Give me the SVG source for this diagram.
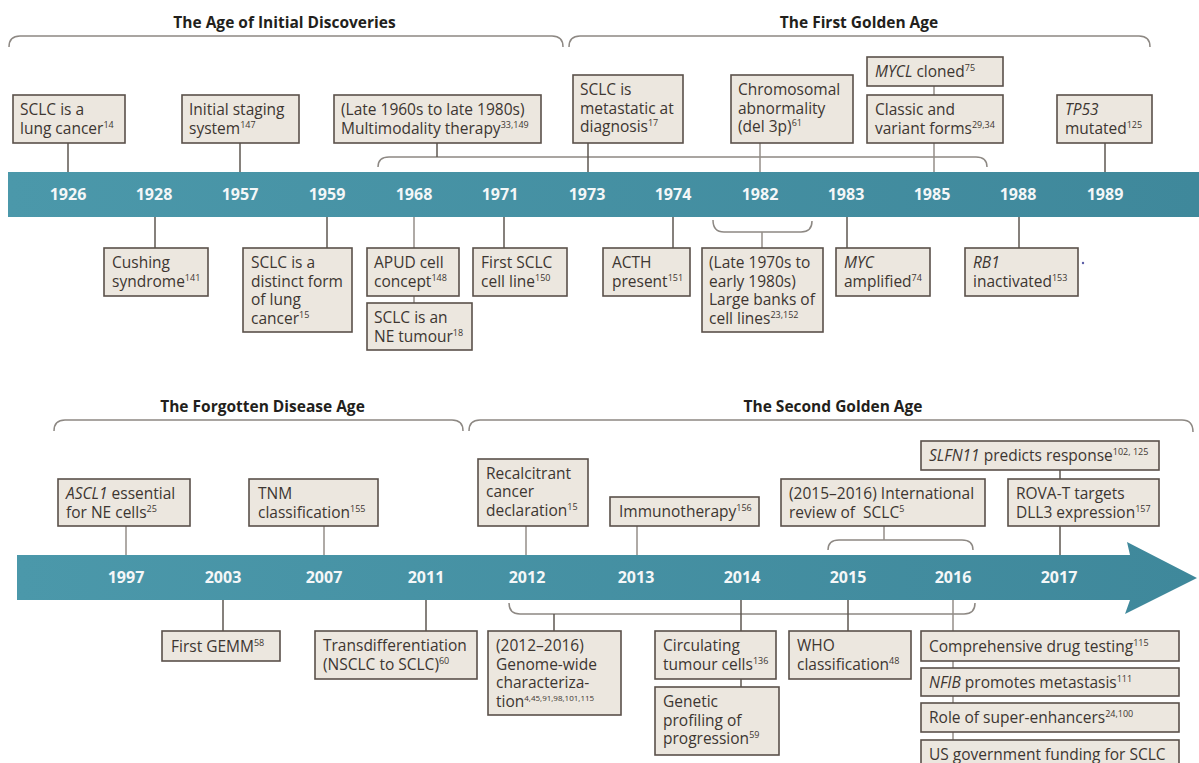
<svg xmlns="http://www.w3.org/2000/svg" width="1199" height="763" viewBox="0 0 1199 763">
<style>
.box{fill:#ece7df;stroke:#5a514a;stroke-width:1.6}
.t{font-family:"Open Sans","Liberation Sans",sans-serif;font-size:15.5px;fill:#3d3631}
.i{font-style:italic}
.sup{font-size:9px}
.yr{font-family:"Open Sans","Liberation Sans",sans-serif;font-weight:700;font-size:16px;fill:#f4f7f8;text-anchor:middle}
.title{font-family:"Open Sans","Liberation Sans",sans-serif;font-weight:700;font-size:15.5px;fill:#231f1c;text-anchor:middle}
.conn{stroke:#5e5751;stroke-width:1.5;fill:none}
.lconn{stroke:#948e88;stroke-width:1.5;fill:none}
.brk{stroke:#8d8883;stroke-width:1.5;fill:none}
</style>
<defs>
<linearGradient id="band" x1="0" y1="0" x2="1" y2="0">
<stop offset="0" stop-color="#4b98aa"/>
<stop offset="1" stop-color="#3f889b"/>
</linearGradient>
</defs>
<rect width="1199" height="763" fill="#ffffff"/>

<g id="titles">
<text class="title" x="284.5" y="27.5">The Age of Initial Discoveries</text>
<text class="title" x="859" y="27.5">The First Golden Age</text>
<text class="title" x="262.5" y="411.5">The Forgotten Disease Age</text>
<text class="title" x="833" y="411.5">The Second Golden Age</text>
</g>

<g id="bands">
<rect x="8" y="172" width="1191" height="45" fill="url(#band)"/>
<polygon points="17,555 1130,555 1127,542 1197,578 1125,614 1130,600 17,600" fill="url(#band)"/>
</g>

<g id="connectors">
<path class="brk" d="M9 47 Q9 36 20 36 L552 36 Q563 36 563 47"/>
<path class="brk" d="M569 47 Q569 36 580 36 L1139 36 Q1150 36 1150 47"/>
<path class="brk" d="M54 431 Q54 420 65 420 L452 420 Q463 420 463 431"/>
<path class="brk" d="M469 431 Q469 420 480 420 L1182 420 Q1193 420 1193 432"/>
<path class="brk" d="M378 167 Q378 157 389 157 L976 157 Q987 157 987 167"/>
<path class="brk" d="M713 220 Q713 232 724 232 L801 232 Q812 232 812 221"/>
<path class="brk" d="M828 550 Q828 540 839 540 L962 540 Q973 540 973 550"/>
<path class="brk" d="M509 603 Q509 614 520 614 L964 614 Q975 614 975 603"/>
<line class="conn" x1="68" y1="143" x2="68" y2="172"/>
<line class="conn" x1="240" y1="143" x2="240" y2="172"/>
<line class="conn" x1="437" y1="143" x2="437" y2="157"/>
<line class="conn" x1="588" y1="143" x2="588" y2="172"/>
<line class="lconn" x1="760" y1="143" x2="760" y2="172"/>
<line class="lconn" x1="934" y1="86" x2="934" y2="172"/>
<line class="conn" x1="1105" y1="143" x2="1105" y2="172"/>
<line class="conn" x1="155" y1="217" x2="155" y2="248"/>
<line class="conn" x1="327" y1="217" x2="327" y2="248"/>
<line class="lconn" x1="414" y1="217" x2="414" y2="303"/>
<line class="conn" x1="504" y1="217" x2="504" y2="248"/>
<line class="conn" x1="673" y1="217" x2="673" y2="248"/>
<line class="lconn" x1="762" y1="232" x2="762" y2="248"/>
<line class="conn" x1="847" y1="217" x2="847" y2="248"/>
<line class="conn" x1="1019" y1="217" x2="1019" y2="248"/>
<line class="lconn" x1="126" y1="526" x2="126" y2="555"/>
<line class="lconn" x1="324" y1="526" x2="324" y2="555"/>
<line class="lconn" x1="526" y1="526" x2="526" y2="555"/>
<line class="lconn" x1="637" y1="526" x2="637" y2="555"/>
<line class="lconn" x1="884" y1="526" x2="884" y2="540"/>
<line class="conn" x1="1060" y1="470" x2="1060" y2="555"/>
<line class="conn" x1="223" y1="600" x2="223" y2="631"/>
<line class="conn" x1="426" y1="600" x2="426" y2="631"/>
<line class="conn" x1="554" y1="614" x2="554" y2="631"/>
<line class="conn" x1="741" y1="600" x2="741" y2="687"/>
<line class="conn" x1="848" y1="600" x2="848" y2="631"/>
<line class="lconn" x1="953" y1="600" x2="953" y2="740"/>
</g>

<g id="years">
<text class="yr" x="68" y="200">1926</text>
<text class="yr" x="154" y="200">1928</text>
<text class="yr" x="240" y="200">1957</text>
<text class="yr" x="327" y="200">1959</text>
<text class="yr" x="414" y="200">1968</text>
<text class="yr" x="500" y="200">1971</text>
<text class="yr" x="587" y="200">1973</text>
<text class="yr" x="673" y="200">1974</text>
<text class="yr" x="760" y="200">1982</text>
<text class="yr" x="846" y="200">1983</text>
<text class="yr" x="932" y="200">1985</text>
<text class="yr" x="1018" y="200">1988</text>
<text class="yr" x="1105" y="200">1989</text>
<text class="yr" x="126" y="583">1997</text>
<text class="yr" x="223" y="583">2003</text>
<text class="yr" x="324" y="583">2007</text>
<text class="yr" x="426" y="583">2011</text>
<text class="yr" x="527" y="583">2012</text>
<text class="yr" x="636" y="583">2013</text>
<text class="yr" x="742" y="583">2014</text>
<text class="yr" x="848" y="583">2015</text>
<text class="yr" x="953" y="583">2016</text>
<text class="yr" x="1059" y="583">2017</text>
</g>

<g id="n1926"><rect class="box" x="13" y="95" width="112" height="48"/>
<text class="t"><tspan x="20" y="115">SCLC is a</tspan><tspan x="20" y="133.5">lung cancer</tspan><tspan class="sup" dy="-6">14</tspan></text></g>
<g id="n1957"><rect class="box" x="182" y="95" width="117" height="48"/>
<text class="t"><tspan x="189" y="115">Initial staging</tspan><tspan x="189" y="133.5">system</tspan><tspan class="sup" dy="-6">147</tspan></text></g>
<g id="n1968a"><rect class="box" x="334" y="95" width="207" height="48"/>
<text class="t"><tspan x="341" y="115">(Late 1960s to late 1980s)</tspan><tspan x="341" y="133.5">Multimodality therapy</tspan><tspan class="sup" dy="-6">33,149</tspan></text></g>
<g id="n1973"><rect class="box" x="573" y="75" width="110" height="68"/>
<text class="t"><tspan x="580" y="95">SCLC is</tspan><tspan x="580" y="113.5">metastatic at</tspan><tspan x="580" y="132">diagnosis</tspan><tspan class="sup" dy="-6">17</tspan></text></g>
<g id="n1982a"><rect class="box" x="731" y="75" width="122" height="68"/>
<text class="t"><tspan x="738" y="95">Chromosomal</tspan><tspan x="738" y="113.5">abnormality</tspan><tspan x="738" y="132">(del 3p)</tspan><tspan class="sup" dy="-6">61</tspan></text></g>
<g id="n1985a"><rect class="box" x="867" y="57" width="136" height="29"/>
<text class="t"><tspan x="875" y="77" class="i">MYCL</tspan><tspan> cloned</tspan><tspan class="sup" dy="-6">75</tspan></text></g>
<g id="n1985b"><rect class="box" x="867" y="95" width="136" height="48"/>
<text class="t"><tspan x="875" y="115">Classic and</tspan><tspan x="875" y="133.5">variant forms</tspan><tspan class="sup" dy="-6">29,34</tspan></text></g>
<g id="n1989"><rect class="box" x="1057" y="95" width="95" height="48"/>
<text class="t"><tspan x="1065" y="115" class="i">TP53</tspan><tspan x="1065" y="133.5">mutated</tspan><tspan class="sup" dy="-6">125</tspan></text></g>

<g id="n1928"><rect class="box" x="104" y="248" width="104" height="48"/>
<text class="t"><tspan x="112" y="268">Cushing</tspan><tspan x="112" y="286.5">syndrome</tspan><tspan class="sup" dy="-6">141</tspan></text></g>
<g id="n1959"><rect class="box" x="243" y="248" width="109" height="84"/>
<text class="t"><tspan x="251" y="268">SCLC is a</tspan><tspan x="251" y="286.5">distinct form</tspan><tspan x="251" y="305">of lung</tspan><tspan x="251" y="323.5">cancer</tspan><tspan class="sup" dy="-6">15</tspan></text></g>
<g id="n1968b"><rect class="box" x="367" y="248" width="92" height="48"/>
<text class="t"><tspan x="374" y="268">APUD cell</tspan><tspan x="374" y="286.5">concept</tspan><tspan class="sup" dy="-6">148</tspan></text></g>
<g id="n1968c"><rect class="box" x="367" y="303" width="105" height="47"/>
<text class="t"><tspan x="374" y="323">SCLC is an</tspan><tspan x="374" y="341.5">NE tumour</tspan><tspan class="sup" dy="-6">18</tspan></text></g>
<g id="n1971"><rect class="box" x="473" y="248" width="94" height="48"/>
<text class="t"><tspan x="481" y="268">First SCLC</tspan><tspan x="481" y="286.5">cell line</tspan><tspan class="sup" dy="-6">150</tspan></text></g>
<g id="n1974"><rect class="box" x="603" y="248" width="87" height="48"/>
<text class="t"><tspan x="612" y="268">ACTH</tspan><tspan x="612" y="286.5">present</tspan><tspan class="sup" dy="-6">151</tspan></text></g>
<g id="n1982b"><rect class="box" x="702" y="248" width="121" height="84"/>
<text class="t"><tspan x="709" y="268">(Late 1970s to</tspan><tspan x="709" y="286.5">early 1980s)</tspan><tspan x="709" y="305">Large banks of</tspan><tspan x="709" y="323.5">cell lines</tspan><tspan class="sup" dy="-6">23,152</tspan></text></g>
<g id="n1983"><rect class="box" x="836" y="248" width="94" height="48"/>
<text class="t"><tspan x="844" y="268" class="i">MYC</tspan><tspan x="844" y="286.5">amplified</tspan><tspan class="sup" dy="-6">74</tspan></text></g>
<g id="n1988"><rect class="box" x="965" y="248" width="113" height="48"/>
<text class="t"><tspan x="973" y="268" class="i">RB1</tspan><tspan x="973" y="286.5">inactivated</tspan><tspan class="sup" dy="-6">153</tspan></text></g>
<circle cx="1083" cy="263" r="1.2" fill="#5b5ea6"/>

<g id="n1997"><rect class="box" x="58" y="479" width="132" height="47"/>
<text class="t"><tspan x="66" y="499" class="i">ASCL1</tspan><tspan> essential</tspan><tspan x="66" y="517.5">for NE cells</tspan><tspan class="sup" dy="-6">25</tspan></text></g>
<g id="n2007"><rect class="box" x="249" y="479" width="129" height="47"/>
<text class="t"><tspan x="258" y="499">TNM</tspan><tspan x="258" y="517.5">classification</tspan><tspan class="sup" dy="-6">155</tspan></text></g>
<g id="n2012a"><rect class="box" x="478" y="459" width="110" height="67"/>
<text class="t"><tspan x="486" y="478.5">Recalcitrant</tspan><tspan x="486" y="497">cancer</tspan><tspan x="486" y="515.5">declaration</tspan><tspan class="sup" dy="-6">15</tspan></text></g>
<g id="n2013"><rect class="box" x="610" y="497" width="149" height="29"/>
<text class="t"><tspan x="619" y="517">Immunotherapy</tspan><tspan class="sup" dy="-6">156</tspan></text></g>
<g id="n2015a"><rect class="box" x="781" y="479" width="204" height="47"/>
<text class="t"><tspan x="789" y="499">(2015–2016) International</tspan><tspan x="789" y="517.5" xml:space="preserve">review of  SCLC</tspan><tspan class="sup" dy="-6">5</tspan></text></g>
<g id="n2017a"><rect class="box" x="921" y="441" width="238" height="29"/>
<text class="t"><tspan x="929" y="461" class="i">SLFN11</tspan><tspan> predicts response</tspan><tspan class="sup" dy="-6">102, 125</tspan></text></g>
<g id="n2017b"><rect class="box" x="1008" y="479" width="151" height="47"/>
<text class="t"><tspan x="1016" y="499">ROVA-T targets</tspan><tspan x="1016" y="517.5">DLL3 expression</tspan><tspan class="sup" dy="-6">157</tspan></text></g>

<g id="n2003"><rect class="box" x="162" y="631" width="118" height="30"/>
<text class="t"><tspan x="171" y="651.5">First GEMM</tspan><tspan class="sup" dy="-6">58</tspan></text></g>
<g id="n2011"><rect class="box" x="315" y="631" width="162" height="48"/>
<text class="t"><tspan x="323" y="651">Transdifferentiation</tspan><tspan x="323" y="669.5">(NSCLC to SCLC)</tspan><tspan class="sup" dy="-6">60</tspan></text></g>
<g id="n2012b"><rect class="box" x="488" y="631" width="133" height="84"/>
<text class="t"><tspan x="496" y="651">(2012–2016)</tspan><tspan x="496" y="669.5">Genome-wide</tspan><tspan x="496" y="688">characteriza-</tspan><tspan x="496" y="706.5">tion</tspan><tspan class="sup" style="font-size:8px" dy="-6">4,45,91,98,101,115</tspan></text></g>
<g id="n2014a"><rect class="box" x="655" y="631" width="121" height="48"/>
<text class="t"><tspan x="663" y="651">Circulating</tspan><tspan x="663" y="669.5">tumour cells</tspan><tspan class="sup" dy="-6">136</tspan></text></g>
<g id="n2014b"><rect class="box" x="655" y="687" width="124" height="68"/>
<text class="t"><tspan x="663" y="707">Genetic</tspan><tspan x="663" y="725.5">profiling of</tspan><tspan x="663" y="744">progression</tspan><tspan class="sup" dy="-6">59</tspan></text></g>
<g id="n2015b"><rect class="box" x="789" y="631" width="122" height="48"/>
<text class="t"><tspan x="797" y="651">WHO</tspan><tspan x="797" y="669.5">classification</tspan><tspan class="sup" dy="-6">48</tspan></text></g>
<g id="n2016a"><rect class="box" x="921" y="631" width="258" height="30"/>
<text class="t"><tspan x="929" y="651.5">Comprehensive drug testing</tspan><tspan class="sup" dy="-6">115</tspan></text></g>
<g id="n2016b"><rect class="box" x="921" y="668" width="258" height="28"/>
<text class="t"><tspan x="929" y="687.5" class="i">NFIB</tspan><tspan> promotes metastasis</tspan><tspan class="sup" dy="-6">111</tspan></text></g>
<g id="n2016c"><rect class="box" x="921" y="703" width="258" height="29"/>
<text class="t"><tspan x="929" y="723">Role of super-enhancers</tspan><tspan class="sup" dy="-6">24,100</tspan></text></g>
<g id="n2016d"><rect class="box" x="921" y="740" width="258" height="40"/>
<text class="t"><tspan x="929" y="760">US government funding for SCLC</tspan></text></g>
</svg>
